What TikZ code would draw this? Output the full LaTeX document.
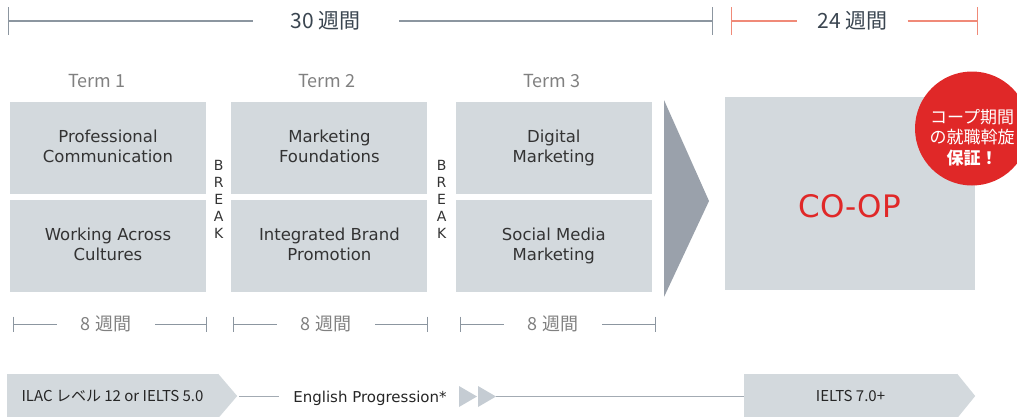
\documentclass[tikz,border=0pt]{standalone}
\usepackage{fontspec}
\setmainfont{DejaVu Sans}
\newfontfamily\jpfont{Noto Sans CJK JP}
\usetikzlibrary{calc,positioning}
\definecolor{boxgrey}{HTML}{D3D9DD}
\definecolor{chevrongrey}{HTML}{9AA1AB}
\definecolor{linegrey}{HTML}{8C96A0}
\definecolor{coopred}{HTML}{E02828}
\definecolor{salmon}{HTML}{F08A78}
\definecolor{labelgrey}{HTML}{808080}
\definecolor{darktext}{HTML}{3A4550}
\definecolor{pointgrey}{HTML}{C5CCD3}
\tikzset{
  course/.style={fill=boxgrey, minimum width=196pt, minimum height=92pt, inner sep=0pt,
    align=center, text=black!80, font=\fontsize{16.5}{20}\selectfont,
    execute at begin node={\rule{0pt}{20.4pt}}, execute at end node={\vphantom{g}}},
  termlabel/.style={text=labelgrey, font=\jpfont\fontsize{18}{20}\selectfont},
  weeklabel/.style={text=labelgrey, font=\jpfont\fontsize{18}{20}\selectfont, inner xsep=24pt},
  totallabel/.style={text=darktext, font=\jpfont\fontsize{21}{24}\selectfont},
  breaktext/.style={align=center, inner sep=0pt, text=black!80, font=\fontsize{14}{17}\selectfont},
  levelbox/.style={fill=boxgrey, minimum height=44pt, inner sep=0pt, text=black!85,
    font=\jpfont\fontsize{15}{18}\selectfont},
  levelline/.style={draw=linegrey!80, line width=1pt},
  tick/.style={line width=1pt}
}

\begin{document}
\begin{tikzpicture}[x=1pt,y=-1pt]
  \useasboundingbox (0,0) rectangle (1017,416);

  % total durations
  \coordinate (s0) at (8,21);
  \coordinate (s1) at (712,21);
  \coordinate (c0) at (731,21);
  \coordinate (c1) at (977,21);
  \node[totallabel, inner xsep=38pt] (w30) at (326,21) {30 週間};
  \node[totallabel, inner xsep=20pt] (w24) at (852.5,21) {24 週間};
  \draw[linegrey, line width=1.8pt] (s0) -- (w30) -- (s1);
  \draw[salmon, line width=1.5pt] (c0) -- (w24) -- (c1);
  \foreach \c in {s0,s1} \draw[linegrey, tick] ($(\c)+(0,-14)$) -- ++(0,28);
  \foreach \c in {c0,c1} \draw[salmon, tick] ($(\c)+(0,-14)$) -- ++(0,28);

  % terms
  \node[termlabel] (t1) at (97,81) {Term 1};
  \node[termlabel] (t2) at (327,81) {Term 2};
  \node[termlabel] (t3) at (552,81) {Term 3};

  \node[course] (pc) at (108,148) {Professional\\Communication};
  \node[course, below=6pt of pc] (wac) {Working Across\\Cultures};
  \node[course, right=25pt of pc] (mf) {Marketing\\Foundations};
  \node[course, below=6pt of mf] (ibp) {Integrated Brand\\Promotion};
  \node[course, right=28pt of mf] (dm) {Digital\\Marketing};
  \node[course, below=6pt of dm] (smm) {Social Media\\Marketing};

  \node[breaktext, yshift=-2pt] (brk1) at ($(pc.south east)!0.5!(ibp.north west)$) {B\\R\\E\\A\\K};
  \node[breaktext, yshift=-2pt] (brk2) at ($(mf.south east)!0.5!(smm.north west)$) {B\\R\\E\\A\\K};

  \fill[chevrongrey] (664,100) -- (709,201) -- (664,297) -- cycle;

  % co-op
  \node[fill=boxgrey, minimum width=250pt, minimum height=193pt] (coop) at (850,193.5) {};
  \node[text=coopred, font=\fontsize{31}{36}\selectfont] (cooptext) at ([yshift=-13pt]coop.center) {CO-OP};
  \node[circle, fill=coopred, minimum size=114pt] (promise) at (972,128.5) {};
  \node[align=center, text=white, inner sep=0pt, font=\jpfont\fontsize{17}{20.5}\selectfont]
    (promisetext) at ([yshift=-9pt]promise.center) {コープ期間\\の就職斡旋\\\textbf{保証！}};

  % term weeks
  \foreach \l/\r/\n in {13/206/a,233/427/b,460/655/c} {
    \coordinate (wl\n) at (\l,324);
    \coordinate (wr\n) at (\r,324);
    \node[weeklabel] (w\n) at (\l+93,324) {8 週間};
    \draw[linegrey, tick] (wl\n) -- (w\n) -- (wr\n);
    \draw[linegrey, tick] ($(wl\n)+(0,-7.5)$) -- ++(0,15);
    \draw[linegrey, tick] ($(wr\n)+(0,-7.5)$) -- ++(0,15);
  }

  % english levels
  \node[levelbox, minimum width=211pt] (ilac) at (112.5,396) {ILAC レベル 12 or IELTS 5.0};
  \fill[boxgrey] (ilac.north east) -- ([xshift=19pt]ilac.east) -- (ilac.south east) -- cycle;
  \node[levelbox, minimum width=213pt] (ielts) at (850.5,396) {IELTS 7.0+};
  \fill[boxgrey] (ielts.north east) -- ([xshift=18pt]ielts.east) -- (ielts.south east) -- cycle;
  \coordinate (ilactip) at ([xshift=21pt]ilac.east);
  \node[font=\fontsize{15}{18}\selectfont, text=black!85, inner xsep=14pt] (prog) at (370,398.5) {English Progression*};
  \fill[pointgrey] (459,386) -- (477,396.5) -- (459,407) -- cycle;
  \fill[pointgrey] (478,386) -- (496,396.5) -- (478,407) -- cycle;
  \coordinate (progtip) at (496,396);
  \draw[levelline] (ilactip) -- (ilactip -| prog.west);
  \draw[levelline] (progtip) -- (ielts);
\end{tikzpicture}
\end{document}
